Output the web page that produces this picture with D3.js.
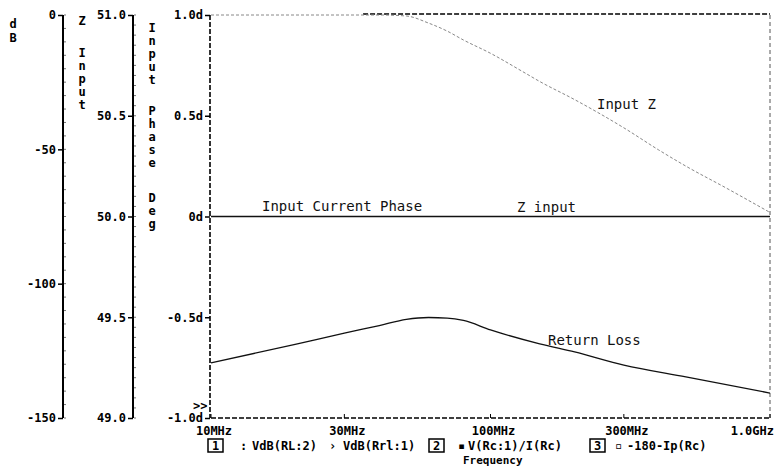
<!DOCTYPE html>
<html>
<head>
<meta charset="utf-8">
<script src="https://cdn.jsdelivr.net/npm/d3@7"></script>
<style>
  body { margin: 0; background: #fff; }
  svg { display: block; }
  .tk { font-family: "DejaVu Sans Mono", monospace; font-weight: bold; font-size: 12px; fill: #000; }
  .note { font-family: "DejaVu Sans Mono", monospace; font-size: 14px; fill: #111; }
</style>
</head>
<body>
<svg id="chart" width="774" height="467"></svg>
<script>
// x axis (Hz)
var freqTicks = [1e7, 3e7, 1e8, 3e8, 1e9];
var freqLabels = ["10MHz", "30MHz", "100MHz", "300MHz", "1.0GHz"];

// the three y axes
var dbTicks = [0, -50, -100, -150];
var dbLabels = ["0", "-50", "-100", "-150"];
var zTicks = [51.0, 50.5, 50.0, 49.5, 49.0];
var zLabels = ["51.0", "50.5", "50.0", "49.5", "49.0"];
var phTicks = [1, 0.5, 0, -0.5, -1];
var phLabels = ["1.0d", "0.5d", "0d", "-0.5d", "-1.0d"];

// return loss, dB
var rlFreq = [1e7, 2e7, 3e7, 4e7, 5e7, 6e7, 7e7, 8e7, 1e8, 1.5e8, 2e8, 3e8, 5e8, 1e9];
var rlDb = [-129.5, -122.6, -118.4, -115.6, -113.3, -112.6, -112.8, -113.7, -117.2, -122.4, -125.4, -130.3, -134.7, -140.7];

// input Z, ohms
var zFreq = [1e7, 2e7, 3e7, 4e7, 5e7, 6e7, 7e7, 8e7, 1e8, 1.3e8, 1.5e8, 2e8, 3e8, 4e8, 5e8, 7e8, 1e9];
var zOhm = [51.0, 51.0, 51.0, 51.0, 50.995, 50.96, 50.92, 50.876, 50.81, 50.72, 50.67, 50.58, 50.44, 50.33, 50.25, 50.14, 50.02];

// input current phase (deg) and Z input (ohms), both flat
var phFreq = [1e7, 1e9];
var phDeg = [0, 0];
var zinFreq = [1e7, 1e9];
var zinOhm = [50.0, 50.0];

var svg = d3.select("#chart");
var pLeft = 211, pRight = 770, pTop = 15, pBottom = 418;

var x = d3.scaleLog().domain([1e7, 1e9]).range([pLeft, pRight]);
var yDb = d3.scaleLinear().domain([-150, 0]).range([pBottom, pTop]);
var yZ = d3.scaleLinear().domain([49, 51]).range([pBottom, pTop]);
var yPh = d3.scaleLinear().domain([-1, 1]).range([pBottom, pTop]);

// --- y axes ---
var drawAxis = function(pos, scale, ticks, labels, minor, dashed) {
  var g = svg.append("g").attr("transform", "translate(" + pos + ",0)");
  var ax = d3.axisLeft(scale).tickValues(ticks)
      .tickFormat(function(d, i) { return labels[i]; })
      .tickSize(5).tickPadding(2).tickSizeOuter(0);
  g.call(ax);
  g.attr("font-family", null).attr("font-size", null);
  g.select(".domain").remove();
  g.selectAll(".tick line").attr("stroke", "#000").attr("stroke-width", 1.5);
  g.selectAll(".tick text").attr("class", "tk");
  g.append("line")
      .attr("y1", pTop).attr("y2", pBottom)
      .attr("stroke", "#000")
      .attr("stroke-width", dashed ? 1.6 : 2)
      .attr("stroke-dasharray", dashed ? "5,2" : null);
  if (minor) {
    g.selectAll(".minor").data(minor).enter().append("line")
        .attr("x1", 1).attr("x2", 3)
        .attr("y1", function(d) { return scale(d); })
        .attr("y2", function(d) { return scale(d); })
        .attr("stroke", "#777").attr("stroke-width", 1);
  }
};

drawAxis(63, yDb, dbTicks, dbLabels, d3.range(-150, 1, 5), false);
drawAxis(133, yZ, zTicks, zLabels, d3.range(49, 51.001, 0.05), false);
drawAxis(210, yPh, phTicks, phLabels, null, true);

// vertical axis titles, one letter per row
var vText = function(cx, chars, ys) {
  svg.append("g").selectAll("text").data(chars).enter().append("text")
      .attr("class", "tk")
      .attr("x", cx).attr("text-anchor", "middle")
      .attr("y", function(d, i) { return ys[i]; })
      .text(function(d) { return d; });
};
vText(13, ["d", "B"], [28, 42]);
vText(82, ["Z", "I", "n", "p", "u", "t"], [25, 57, 70, 83, 96, 109]);
vText(152, ["I", "n", "p", "u", "t", "P", "h", "a", "s", "e", "D", "e", "g"],
      [32, 45, 58, 71, 84, 115, 128, 141, 154, 167, 202, 215, 228]);

// --- frame ---
svg.append("line").attr("x1", pLeft).attr("x2", pRight).attr("y1", pBottom).attr("y2", pBottom)
    .attr("stroke", "#000").attr("stroke-width", 1.3).attr("stroke-dasharray", "5,2");
svg.append("line").attr("x1", x(3.5e7)).attr("x2", pRight).attr("y1", pTop - 1).attr("y2", pTop - 1)
    .attr("stroke", "#000").attr("stroke-width", 1.3).attr("stroke-dasharray", "5,2");
svg.append("line").attr("x1", pRight).attr("x2", pRight).attr("y1", pTop).attr("y2", pBottom)
    .attr("stroke", "#555").attr("stroke-width", 1).attr("stroke-dasharray", "4,3");

// x ticks + labels
svg.append("g").selectAll("line").data(freqTicks).enter().append("line")
    .attr("x1", function(d) { return x(d); }).attr("x2", function(d) { return x(d); })
    .attr("y1", pBottom).attr("y2", pBottom - 4)
    .attr("stroke", "#000").attr("stroke-width", 1);
svg.append("g").selectAll("text").data(freqTicks).enter().append("text")
    .attr("class", "tk")
    .attr("x", function(d, i) { return i === freqTicks.length - 1 ? 774 : x(d) + 3; })
    .attr("y", 435)
    .attr("text-anchor", function(d, i) { return i === freqTicks.length - 1 ? "end" : "middle"; })
    .text(function(d, i) { return freqLabels[i]; });

svg.append("text").attr("class", "tk").attr("x", 193).attr("y", 410).text(">>");

// --- traces ---
var mkLine = function(xs, ys, yScale) {
  return d3.line()
      .x(function(d, i) { return x(xs[i]); })
      .y(function(d, i) { return yScale(ys[i]); })
      .curve(d3.curveMonotoneX)(xs);
};

svg.append("path").attr("d", mkLine(zinFreq, zinOhm, yZ))
    .attr("fill", "none").attr("stroke", "#666").attr("stroke-width", 1).attr("stroke-dasharray", "6,3");
svg.append("path").attr("d", mkLine(phFreq, phDeg, yPh))
    .attr("fill", "none").attr("stroke", "#111").attr("stroke-width", 1.3);
svg.append("path").attr("d", mkLine(zFreq, zOhm, yZ))
    .attr("fill", "none").attr("stroke", "#888").attr("stroke-width", 1).attr("stroke-dasharray", "3,2");
svg.append("path").attr("d", mkLine(rlFreq, rlDb, yDb))
    .attr("fill", "none").attr("stroke", "#111").attr("stroke-width", 1.3);

// trace notes
svg.append("text").attr("class", "note").attr("x", 597).attr("y", 109).text("Input Z");
svg.append("text").attr("class", "note").attr("x", 262).attr("y", 211).text("Input Current Phase");
svg.append("text").attr("class", "note").attr("x", 517).attr("y", 212).text("Z input");
svg.append("text").attr("class", "note").attr("x", 548).attr("y", 345).text("Return Loss");

// --- legend ---
var box = function(bx, num) {
  svg.append("rect").attr("x", bx).attr("y", 439).attr("width", 15).attr("height", 13)
      .attr("fill", "none").attr("stroke", "#000").attr("stroke-width", 1.5);
  svg.append("text").attr("class", "tk").attr("x", bx + 7.5).attr("y", 450)
      .attr("text-anchor", "middle").text(num);
};
var ltxt = function(tx, s) {
  svg.append("text").attr("class", "tk").attr("x", tx).attr("y", 450).text(s);
};
box(208, "1");
ltxt(240, ":");
ltxt(252, "VdB(RL:2)");
ltxt(329, "\u203A");
ltxt(343, "VdB(Rrl:1)");
box(429, "2");
ltxt(458, "\u25AA");
ltxt(468, "V(Rc:1)/I(Rc)");
box(590, "3");
ltxt(615, "\u25AB");
ltxt(627, "-180-Ip(Rc)");
svg.append("text").attr("class", "tk").attr("x", 463).attr("y", 464).style("font-size", "11px").text("Frequency");
</script>
</body>
</html>
